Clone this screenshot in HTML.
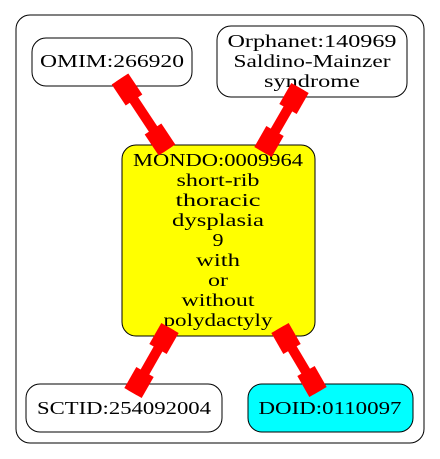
<!DOCTYPE html>
<html><head><style>body{margin:0;background:#fff}svg{display:block}</style></head><body>
<svg width="440" height="459" xmlns="http://www.w3.org/2000/svg" font-family="Liberation Serif, serif" font-size="17.5" text-anchor="middle">
<rect x="16" y="15" width="408" height="428" rx="14" fill="#fff" stroke="#000"/>
<rect x="32" y="38" width="160" height="48" rx="14" fill="#fff" stroke="#000"/>
<text x="112" y="67" textLength="144" lengthAdjust="spacingAndGlyphs">OMIM:266920</text>
<rect x="217" y="26" width="190" height="71" rx="14" fill="#fff" stroke="#000"/>
<text x="312" y="47" textLength="169" lengthAdjust="spacingAndGlyphs">Orphanet:140969</text>
<text x="312" y="67" textLength="157" lengthAdjust="spacingAndGlyphs">Saldino-Mainzer</text>
<text x="312" y="87" textLength="96" lengthAdjust="spacingAndGlyphs">syndrome</text>
<rect x="122" y="145" width="193" height="191" rx="14" fill="#ff0" stroke="#000"/>
<g>
<text x="218" y="166" textLength="170" lengthAdjust="spacingAndGlyphs">MONDO:0009964</text>
<text x="218" y="186" textLength="83" lengthAdjust="spacingAndGlyphs">short-rib</text>
<text x="218" y="206" textLength="85" lengthAdjust="spacingAndGlyphs">thoracic</text>
<text x="218" y="226" textLength="92" lengthAdjust="spacingAndGlyphs">dysplasia</text>
<text x="218" y="246" textLength="11" lengthAdjust="spacingAndGlyphs">9</text>
<text x="218" y="266" textLength="44" lengthAdjust="spacingAndGlyphs">with</text>
<text x="218" y="286" textLength="20" lengthAdjust="spacingAndGlyphs">or</text>
<text x="218" y="306" textLength="73" lengthAdjust="spacingAndGlyphs">without</text>
<text x="218" y="326" textLength="109" lengthAdjust="spacingAndGlyphs">polydactyly</text>
</g>
<rect x="26" y="384" width="196" height="48" rx="14" fill="#fff" stroke="#000"/>
<text x="124" y="414" textLength="174" lengthAdjust="spacingAndGlyphs">SCTID:254092004</text>
<rect x="248" y="384" width="165" height="48" rx="14" fill="#0ff" stroke="#000"/>
<text x="330" y="414" textLength="143" lengthAdjust="spacingAndGlyphs">DOID:0110097</text>
<g stroke="#f00" fill="none">
<line x1="120" y1="79" x2="167" y2="150" stroke-width="10"/>
<line x1="120" y1="79" x2="134" y2="100" stroke-width="20"/>
<line x1="153" y1="129" x2="167" y2="150" stroke-width="20"/>
<line x1="300" y1="88" x2="263" y2="152" stroke-width="10"/>
<line x1="300" y1="88" x2="288" y2="109" stroke-width="20"/>
<line x1="275" y1="131" x2="263" y2="152" stroke-width="20"/>
<line x1="170" y1="328" x2="133" y2="393" stroke-width="10"/>
<line x1="170" y1="328" x2="158" y2="349" stroke-width="20"/>
<line x1="145" y1="372" x2="133" y2="393" stroke-width="20"/>
<line x1="280" y1="328" x2="318" y2="392" stroke-width="10"/>
<line x1="280" y1="328" x2="292" y2="349" stroke-width="20"/>
<line x1="306" y1="371" x2="318" y2="392" stroke-width="20"/>
</g>
</svg>
</body></html>
